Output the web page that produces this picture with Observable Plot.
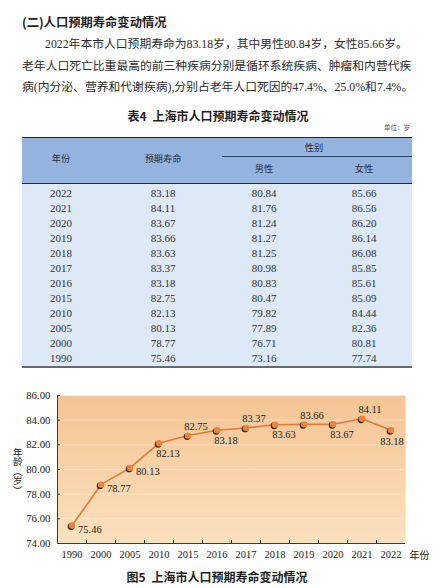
<!DOCTYPE html>
<html><head><meta charset="utf-8">
<script src="https://cdn.jsdelivr.net/npm/d3@7"></script>
<script src="https://cdn.jsdelivr.net/npm/@observablehq/plot@0.6"></script>
<style>
html,body{margin:0;padding:0;background:#fff;}
#page{position:relative;width:440px;height:588px;overflow:hidden;font-family:"Liberation Serif","Noto Sans CJK SC",serif;color:#2b2b2b;}
.t{position:absolute;white-space:nowrap;line-height:1;}
.r{position:absolute;}
#chart{position:absolute;left:0;top:385px;}
#ylab{position:absolute;left:17px;top:471px;transform:translate(-50%,-50%);writing-mode:vertical-rl;text-orientation:mixed;white-space:nowrap;font-family:"Noto Sans CJK SC",sans-serif;font-size:9.5px;line-height:1;color:#222;}
</style></head><body><div id="page"></div>
<script>
// ---------- data ----------
const heading = "(二)人口预期寿命变动情况";
const paraLines = [
  "2022年本市人口预期寿命为83.18岁，其中男性80.84岁，女性85.66岁。",
  "老年人口死亡比重最高的前三种疾病分别是循环系统疾病、肿瘤和内营代疾",
  "病(内分泌、营养和代谢疾病),分别占老年人口死因的47.4%、25.0%和7.4%。"
];
const tableTitle = "表4\u2002上海市人口预期寿命变动情况";
const unitText = "单位：岁";
const headYear = "年份", headLife = "预期寿命", headSex = "性别", headMale = "男性", headFemale = "女性";
const years   = ["2022","2021","2020","2019","2018","2017","2016","2015","2010","2005","2000","1990"];
const lifeExp = [83.18, 84.11, 83.67, 83.66, 83.63, 83.37, 83.18, 82.75, 82.13, 80.13, 78.77, 75.46];
const male    = [80.84, 81.76, 81.24, 81.27, 81.25, 80.98, 80.83, 80.47, 79.82, 77.89, 76.71, 73.16];
const female  = [85.66, 86.56, 86.20, 86.14, 86.08, 85.85, 85.61, 85.09, 84.44, 82.36, 80.81, 77.74];
const yTicks  = [74, 76, 78, 80, 82, 84, 86];
const yLabel = "年龄（岁）";
const xLabel = "年份";
const caption = "图5\u2002上海市人口预期寿命变动情况";

// ---------- page text ----------
const page = document.getElementById("page");
function txt(s, left, cy, opts = {}) {
  const d = document.createElement("div");
  d.className = "t";
  d.textContent = s;
  d.style.left = left + "px";
  d.style.top = cy + "px";
  d.style.fontSize = (opts.size || 12) + "px";
  if (opts.weight) d.style.fontWeight = opts.weight;
  if (opts.family) d.style.fontFamily = opts.family;
  if (opts.color) d.style.color = opts.color;
  const tx = opts.align === "center" ? "-50%" : opts.align === "right" ? "-100%" : "0";
  d.style.transform = `translate(${tx},-50%)`;
  page.appendChild(d);
  return d;
}
function rect(l, t, w, h, bg) {
  const d = document.createElement("div");
  d.className = "r";
  Object.assign(d.style, {left: l + "px", top: t + "px", width: w + "px", height: h + "px", background: bg});
  page.appendChild(d);
}

txt(heading, 22, 22, {size: 12.3, weight: 700, family: '"Noto Sans CJK SC",sans-serif', color: "#1e1e1e"});
txt(paraLines[0], 45, 45, {size: 11.8});
txt(paraLines[1], 22, 67, {size: 11.8});
txt(paraLines[2], 22, 88, {size: 11.8});
txt(tableTitle, 218, 116, {size: 12, weight: 700, align: "center", family: '"Noto Sans CJK SC",sans-serif', color: "#1e1e1e"});
txt(unitText, 410, 127, {size: 6.5, align: "right", family: '"Noto Sans CJK SC",sans-serif', color: "#555"});

// ---------- table ----------
const TL = 22, TR = 412, TW = TR - TL;
rect(TL, 138, TW, 45, "#94b3df");
rect(TL, 184, TW, 182, "#dde9f7");
rect(TL, 136.5, TW, 1.8, "#222");
rect(222, 156, TR - 222, 1, "#2e3f5c");
rect(TL, 182.5, TW, 1.5, "#1f2a3a");
rect(TL, 366, TW, 1.5, "#6a6a6a");
const colX = [61, 163, 264, 364];
const hf = {size: 9.2, align: "center", family: '"Noto Sans CJK SC",sans-serif', color: "#2a2f3a"};
txt(headYear, colX[0], 159, hf);
txt(headLife, colX[1], 159, hf);
txt(headSex, 314, 147.5, hf);
txt(headMale, colX[2], 169, hf);
txt(headFemale, colX[3], 169, hf);
years.forEach((y, i) => {
  const cy = 192.7 + i * 15.06;
  const f = {size: 11, align: "center", color: "#333"};
  txt(y, colX[0], cy, f);
  txt(lifeExp[i].toFixed(2), colX[1], cy, f);
  txt(male[i].toFixed(2), colX[2], cy, f);
  txt(female[i].toFixed(2), colX[3], cy, f);
});

// ---------- chart ----------
const chartData = years.map((y, i) => ({year: y, v: lifeExp[i]})).reverse();
chartData.forEach((d, i) => d.i = i);
const n = chartData.length;
const bounds = d3.range(1, n).map(k => k - 0.5);
const above = new Set(["2015", "2017", "2019", "2021"]);
const right = new Set(["1990", "2000", "2005"]);
const lastYear = "2022";
const below = d => !above.has(d.year) && !right.has(d.year) && d.year !== lastYear;

const gradDefs = () => {
  const defs = document.createElementNS("http://www.w3.org/2000/svg", "defs");
  defs.innerHTML = `<linearGradient id="bgGrad" x1="0" y1="0" x2="0" y2="1">
    <stop offset="0" stop-color="#f5c493"/><stop offset="1" stop-color="#fbe1bd"/></linearGradient>`;
  return defs;
};
const lblStyle = {fontFamily: "Liberation Serif", fontSize: 10.5, fill: "#1c1c1c"};
const fmt = d => d.v.toFixed(2);

const chart = Plot.plot({
  width: 440, height: 180,
  marginTop: 10, marginBottom: 22, marginLeft: 57, marginRight: 35,
  style: {background: "transparent", fontFamily: "Liberation Serif", fontSize: "10.5px", color: "#1c1c1c", overflow: "visible"},
  x: {domain: [-0.5, n - 0.5]},
  y: {domain: [74, 86]},
  marks: [
    gradDefs,
    Plot.frame({fill: "url(#bgGrad)", stroke: null}),
    Plot.gridY(yTicks, {stroke: "#fff", strokeOpacity: 0.3}),
    Plot.ruleX([-0.5], {stroke: "#3a3a3a"}),
    Plot.ruleY([74], {stroke: "#3a3a3a"}),
    Plot.axisY(yTicks, {tickSize: 0, tickPadding: 7, tickFormat: d3.format(".2f"), label: null, fontSize: 10.8}),
    Plot.axisY(yTicks, {tickSize: 3, dx: 3, tickFormat: () => "", label: null, stroke: "#3a3a3a"}),
    Plot.axisX(chartData.map(d => d.i), {tickSize: 0, tickPadding: 7, tickFormat: i => chartData[i].year, label: null, fontSize: 10.5}),
    Plot.axisX(bounds, {tickSize: 3, dy: -3, tickFormat: () => "", label: null, stroke: "#3a3a3a"}),
    Plot.text([xLabel], {text: d => d, frameAnchor: "bottom-right", dx: 4, dy: 12, textAnchor: "start", lineAnchor: "middle", fontFamily: "Noto Sans CJK SC", fontSize: 10, fill: "#222"}),
    Plot.line(chartData, {x: "i", y: "v", stroke: "#e27a34", strokeWidth: 1.6}),
    Plot.dot(chartData, {x: "i", y: "v", r: 3.4, fill: "#3a2313", dx: -0.9, dy: 1}),
    Plot.dot(chartData, {x: "i", y: "v", r: 3.2, fill: "#e8843f"}),
    Plot.text(chartData.filter(d => right.has(d.year)), {x: "i", y: "v", text: fmt, dx: 6, dy: 4, textAnchor: "start", ...lblStyle}),
    Plot.text(chartData.filter(below), {x: "i", y: "v", text: fmt, dx: 9, dy: 10, ...lblStyle}),
    Plot.text(chartData.filter(d => d.year === lastYear), {x: "i", y: "v", text: fmt, dx: 1, dy: 11, ...lblStyle}),
    Plot.text(chartData.filter(d => above.has(d.year)), {x: "i", y: "v", text: fmt, dx: 8, dy: -9, ...lblStyle})
  ]
});
chart.id = "chart";
page.appendChild(chart);

const yl = document.createElement("div");
yl.id = "ylab";
yl.textContent = yLabel;
page.appendChild(yl);

txt(caption, 217, 577, {size: 12, weight: 700, align: "center", family: '"Noto Sans CJK SC",sans-serif', color: "#1e1e1e"});
</script>
</body></html>
